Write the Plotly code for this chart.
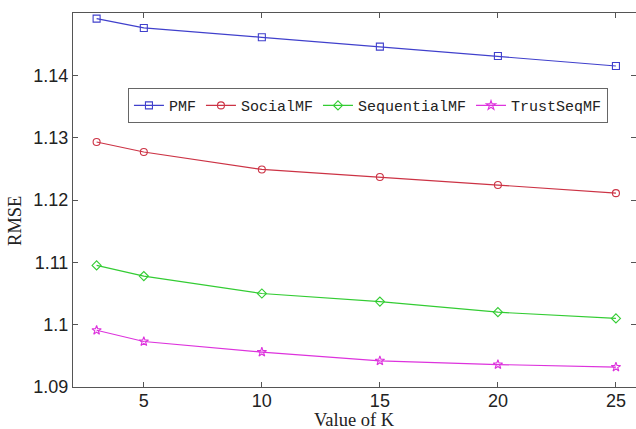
import plotly.graph_objects as go

k_values = [3, 5, 10, 15, 20, 25]
pmf = [1.1491, 1.1476, 1.1461, 1.1446, 1.1431, 1.1415]
social_mf = [1.1293, 1.1277, 1.1249, 1.1237, 1.1224, 1.1211]
sequential_mf = [1.1095, 1.1078, 1.1050, 1.1037, 1.1020, 1.1010]
trust_seq_mf = [1.0991, 1.0973, 1.0956, 1.0942, 1.0936, 1.0932]

x_ticks = [5, 10, 15, 20, 25]
y_ticks = [1.09, 1.10, 1.11, 1.12, 1.13, 1.14]
y_tick_text = ["1.09", "1.1", "1.11", "1.12", "1.13", "1.14"]
x_title = "Value of K"
y_title = "RMSE"

series = [
    ("PMF", pmf, "#4040cc", "square-open"),
    ("SocialMF", social_mf, "#cc3345", "circle-open"),
    ("SequentialMF", sequential_mf, "#33cc33", "diamond-open"),
    ("TrustSeqMF", trust_seq_mf, "#dd33dd", "star-open"),
]

fig = go.Figure()
for name, vals, color, sym in series:
    fig.add_trace(go.Scatter(
        x=k_values, y=vals, name=name, mode="lines+markers",
        line=dict(color=color, width=1.2),
        marker=dict(symbol=sym, size=7, color=color, line=dict(width=1.1, color=color)),
    ))

axis_color = "#555555"
title_font = dict(family="Liberation Serif, Times New Roman", size=18.5, color="#222222")
fig.update_layout(
    width=636, height=429,
    margin=dict(l=73, r=0, t=13, b=42),
    paper_bgcolor="white", plot_bgcolor="white",
    font=dict(family="Liberation Sans, Arial", size=18, color="#222222"),
    showlegend=True,
    legend=dict(
        orientation="h", x=0.0976, y=0.799, xanchor="left", yanchor="top",
        bordercolor="#666666", borderwidth=1, bgcolor="white",
        font=dict(family="Liberation Mono, Courier New, monospace", size=15, color="#222222"),
        itemwidth=30, tracegroupgap=0, itemsizing="trace",
    ),
    xaxis=dict(
        range=[2, 25.85], tickvals=x_ticks, ticks="inside", ticklen=5,
        tickcolor=axis_color, showline=True, linecolor=axis_color, linewidth=1,
        mirror="ticks", showgrid=False, zeroline=False, automargin=False,
        ticklabelstandoff=-3,
    ),
    yaxis=dict(
        range=[1.09, 1.15], tickvals=y_ticks, ticktext=y_tick_text, ticks="inside", ticklen=5,
        tickcolor=axis_color, showline=True, linecolor=axis_color, linewidth=1,
        mirror="ticks", showgrid=False, zeroline=False, automargin=False,
    ),
    annotations=[
        dict(text=x_title, xref="paper", yref="paper", x=0.5, y=-0.088,
             xanchor="center", yanchor="middle", showarrow=False, font=title_font),
        dict(text=y_title, xref="paper", yref="paper", x=-0.103, y=0.444,
             xanchor="center", yanchor="middle", showarrow=False, textangle=-90, font=title_font),
    ],
)

fig.write_html(
    "out.html",
    config={"displayModeBar": False},
    post_script="document.body.style.margin='0';document.body.style.overflow='hidden';",
)
